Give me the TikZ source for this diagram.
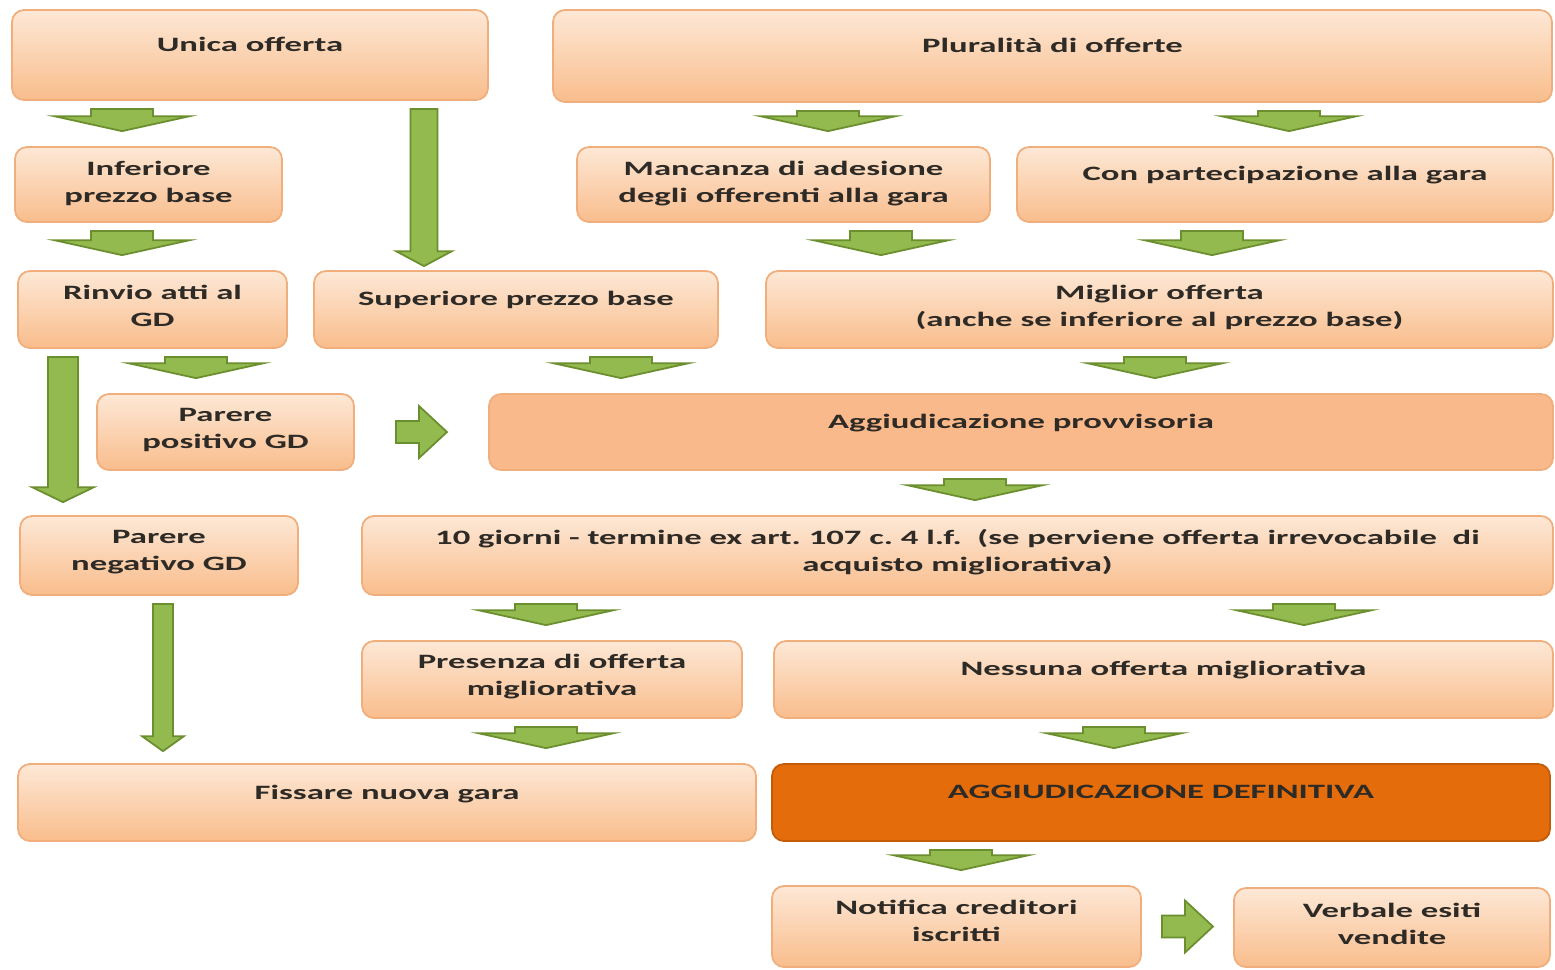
\documentclass[tikz,border=0pt]{standalone}
\usepackage{fontspec}
\setmainfont{Carlito}[FakeStretch=1.7]
\usetikzlibrary{positioning,calc,fit}
\frenchspacing
\definecolor{boxtop}{HTML}{FDE8D6}
\definecolor{boxbot}{HTML}{F9BD8C}
\definecolor{boxline}{HTML}{F0AE7C}
\definecolor{provfill}{HTML}{FAB98A}
\definecolor{deffill}{HTML}{E46C0A}
\definecolor{arrfill}{HTML}{93BA4F}
\definecolor{arrline}{HTML}{6B8E2E}
\definecolor{txtdark}{HTML}{2E2A26}
\newdimen\pxu \pxu=0.01cm
\tikzset{
  boxbase/.style={rounded corners=0.12cm,draw=boxline,line width=0.5pt,inner sep=0pt},
  box/.style={boxbase,top color=boxtop,bottom color=boxbot},
  provbox/.style={boxbase,fill=provfill},
  defbox/.style={boxbase,fill=deffill,draw=deffill!85!black},
  txt/.style={font=\bfseries\fontsize{5.8}{7.7}\selectfont,text=txtdark,align=center,
              inner sep=0pt,text depth=0pt},
  garrow/.style={fill=arrfill,draw=arrline,line width=0.5pt,line join=miter}
}
% box: [style]{name}{x1}{y1}{x2}{y2}{text y}{text}
\newcommand{\bx}[8][box]{%
  \node[#1,fit={(#3,#4) (#5,#6)}] (#2) {};
  \node[txt] (#2-t) at ({(#3+#5)/2},#7) {#8};
}
% down block arrow: [bottom gap]{x}{shaft half}{head half}{from}{to}
\newcommand{\garrowdown}[6][15]{%
  \path[garrow] let \p1=(#5.south), \p2=(#6.north), \p3=(#2,0) in
    ({\x3-#3*\pxu},{\y1-8*\pxu}) -- ({\x3+#3*\pxu},{\y1-8*\pxu})
    -- ({\x3+#3*\pxu},{\y2+(#1+15)*\pxu}) -- ({\x3+#4*\pxu},{\y2+(#1+15)*\pxu})
    -- ({\x3},{\y2+#1*\pxu}) -- ({\x3-#4*\pxu},{\y2+(#1+15)*\pxu})
    -- ({\x3-#3*\pxu},{\y2+(#1+15)*\pxu}) -- cycle;}
% right block arrow centred in the gap: {from}{to}
\newcommand{\garrowright}[2]{%
  \path[garrow] let \p1=(#1.east), \p2=(#2.west), \n1={(\x1+\x2)/2} in
    ({\n1-25.5*\pxu},{\y1+11*\pxu}) -- ({\n1-2.5*\pxu},{\y1+11*\pxu})
    -- ({\n1-2.5*\pxu},{\y1+26*\pxu}) -- ({\n1+25.5*\pxu},{\y1})
    -- ({\n1-2.5*\pxu},{\y1-26*\pxu}) -- ({\n1-2.5*\pxu},{\y1-11*\pxu})
    -- ({\n1-25.5*\pxu},{\y1-11*\pxu}) -- cycle;}

\begin{document}
\begin{tikzpicture}[x=0.01cm,y=-0.01cm]
  \fill[white] (0,0) rectangle (1555,969);
  \useasboundingbox (0,0) rectangle (1555,969);
  % ---------- row 1 ----------
  \bx{unica}{12}{10}{488}{100}{44}{Unica offerta}
  \bx{plural}{553}{10}{1552}{102}{45}{Pluralità di offerte}
  % ---------- row 2 ----------
  \bx{infer}{15}{147}{282}{222}{181.5}{Inferiore\\prezzo base}
  \bx{mancanza}{577}{147}{990}{222}{181.5}{Mancanza di adesione\\degli offerenti alla gara}
  \bx{conpart}{1017}{147}{1553}{222}{173}{Con partecipazione alla gara}
  % ---------- row 3 ----------
  \bx{rinvio}{18}{271}{287}{348}{305.5}{Rinvio atti al\\GD}
  \bx{superiore}{314}{271}{718}{348}{298}{Superiore prezzo base}
  \bx{miglior}{766}{271}{1553}{348}{306}{Miglior offerta\\(anche se inferiore al prezzo base)}
  % ---------- row 4 ----------
  \bx{positivo}{97}{394}{354}{470}{428.5}{Parere\\positivo GD}
  \bx[provbox]{provv}{489}{394}{1553}{470}{421}{Aggiudicazione provvisoria}
  % ---------- row 5 ----------
  \bx{negativo}{20}{516}{298}{595}{550.5}{Parere\\negativo GD}
  \bx{termine}{362}{516}{1553}{595}{550.5}{10 giorni - termine ex art. 107 c. 4 l.f.~ (se perviene offerta irrevocabile~ di\\acquisto migliorativa)}
  % ---------- row 6 ----------
  \bx{presenza}{362}{641}{742}{718}{674.5}{Presenza di offerta\\migliorativa}
  \bx{nessuna}{774}{641}{1553}{718}{668}{Nessuna offerta migliorativa}
  % ---------- row 7 ----------
  \bx{fissare}{18}{764}{756}{841}{792}{Fissare nuova gara}
  \bx[defbox]{definitiva}{772}{764}{1550}{841}{792}{AGGIUDICAZIONE DEFINITIVA}
  % ---------- row 8 ----------
  \bx{notifica}{772}{886}{1141}{967}{921}{Notifica creditori\\iscritti}
  \bx{verbale}{1234}{888}{1550}{967}{923.5}{Verbale esiti\\vendite}
  % ---------- short arrows ----------
  \garrowdown{122}{31}{68}{unica}{infer}
  \garrowdown{828}{31}{68}{plural}{mancanza}
  \garrowdown{1289}{31}{68}{plural}{conpart}
  \garrowdown{122}{31}{68}{infer}{rinvio}
  \garrowdown{881}{31}{68}{mancanza}{miglior}
  \garrowdown{1212}{31}{68}{conpart}{miglior}
  \garrowdown{196}{31}{68}{rinvio}{positivo}
  \garrowdown{621}{31}{68}{superiore}{provv}
  \garrowdown{1155}{31}{68}{miglior}{provv}
  \garrowdown{975}{31}{68}{provv}{termine}
  \garrowdown{546}{31}{68}{termine}{presenza}
  \garrowdown{1304}{31}{68}{termine}{nessuna}
  \garrowdown{546}{31}{68}{presenza}{fissare}
  \garrowdown{1114}{31}{68}{nessuna}{definitiva}
  \garrowdown{961}{31}{68}{definitiva}{notifica}
  % ---------- long arrows ----------
  \garrowdown[4]{424}{13.5}{28}{unica}{superiore}
  \garrowdown[13]{63}{15}{31}{rinvio}{negativo}
  \garrowdown[12]{163}{10}{21}{negativo}{fissare}
  % ---------- right arrows ----------
  \garrowright{positivo}{provv}
  \garrowright{notifica}{verbale}
\end{tikzpicture}
\end{document}
